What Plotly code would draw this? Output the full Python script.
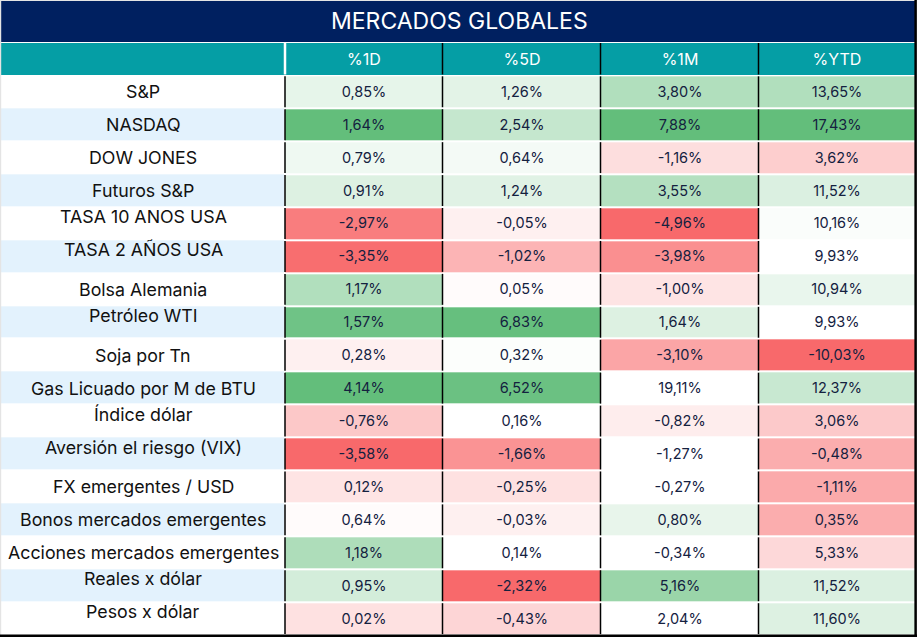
import plotly.graph_objects as go

TITLE = "MERCADOS GLOBALES"
COLUMNS = ["%1D", "%5D", "%1M", "%YTD"]
LABELS = ["S&P", "NASDAQ", "DOW JONES", "Futuros S&P", "TASA 10 ANOS USA", "TASA 2 AÑOS USA",
          "Bolsa Alemania", "Petróleo WTI", "Soja por Tn", "Gas Licuado por M de BTU", "Índice dólar",
          "Aversión el riesgo (VIX)", "FX emergentes / USD", "Bonos mercados emergentes",
          "Acciones mercados emergentes", "Reales x dólar", "Pesos x dólar"]
D1 = ["0,85%", "1,64%", "0,79%", "0,91%", "-2,97%", "-3,35%", "1,17%", "1,57%", "0,28%", "4,14%", "-0,76%",
      "-3,58%", "0,12%", "0,64%", "1,18%", "0,95%", "0,02%"]
D5 = ["1,26%", "2,54%", "0,64%", "1,24%", "-0,05%", "-1,02%", "0,05%", "6,83%", "0,32%", "6,52%", "0,16%",
      "-1,66%", "-0,25%", "-0,03%", "0,14%", "-2,32%", "-0,43%"]
M1 = ["3,80%", "7,88%", "-1,16%", "3,55%", "-4,96%", "-3,98%", "-1,00%", "1,64%", "-3,10%", "19,11%", "-0,82%",
      "-1,27%", "-0,27%", "0,80%", "-0,34%", "5,16%", "2,04%"]
YTD = ["13,65%", "17,43%", "3,62%", "11,52%", "10,16%", "9,93%", "10,94%", "9,93%", "-10,03%", "12,37%", "3,06%",
       "-0,48%", "-1,11%", "0,35%", "5,33%", "11,52%", "11,60%"]
# Conditional-format shade of each cell (-1 red ... 0 white ... +1 green)
SHADE_D1 = [.16, 1, .10, .22, -.87, -.97, .50, .92, -.10, 1, -.37, -1, -.18, -.03, .52, .28, -.20]
SHADE_D5 = [.18, .37, .07, .20, -.10, -.50, -.03, .98, .02, .95, 0, -.72, -.20, -.10, 0, -1, -.28]
SHADE_M1 = [.50, 1, -.22, .48, -1, -.75, -.18, .22, -.60, 0, -.12, 0, 0, .15, 0, .65, 0]
SHADE_YTD = [.50, 1, -.33, .23, .03, 0, .14, 0, -1, .35, -.36, -.55, -.57, -.55, -.26, .23, .22]
RAISED_LABELS = ["TASA 10 ANOS USA", "TASA 2 AÑOS USA", "Petróleo WTI", "Índice dólar",
                 "Aversión el riesgo (VIX)", "Reales x dólar", "Pesos x dólar"]

W, H = 917, 637
COL_EDGES = [285, 442.5, 600.5, 758.5, 915]
LABEL_EDGES = [1, 284]
TITLE_EDGES = [1, 41.5]
HEAD_EDGES = [43, 74.5]
ROW_TOP, ROW_H = 75.3, 32.93
ROW_EDGES = [ROW_TOP + i * ROW_H for i in range(len(LABELS) + 1)]
ROW_MID = [(a + b) / 2 for a, b in zip(ROW_EDGES, ROW_EDGES[1:])]
INK = "#14213f"
FONT = "Inter"

fig = go.Figure()
# title band
fig.add_trace(go.Heatmap(x=[1, 915], y=TITLE_EDGES, z=[[0]], colorscale=[[0, "#002060"], [1, "#002060"]],
                         showscale=False, hoverinfo="skip"))
# header band
fig.add_trace(go.Heatmap(x=[1] + COL_EDGES, y=HEAD_EDGES, z=[[0] * 5], colorscale=[[0, "#059EA5"], [1, "#059EA5"]],
                         showscale=False, hoverinfo="skip", text=[[""] + COLUMNS], texttemplate="%{text}",
                         textfont=dict(family=FONT, size=16, color="white")))
# label column
fig.add_trace(go.Heatmap(x=LABEL_EDGES, y=ROW_EDGES, z=[[i % 2] for i in range(len(LABELS))],
                         colorscale=[[0, "#FFFFFF"], [1, "#E3F2FD"]], zmin=0, zmax=1, ygap=1,
                         showscale=False, hoverinfo="skip"))
# values
z = [list(r) for r in zip(SHADE_D1, SHADE_D5, SHADE_M1, SHADE_YTD)]
text = [list(r) for r in zip(D1, D5, M1, YTD)]
fig.add_trace(go.Heatmap(x=COL_EDGES, y=ROW_EDGES, z=z, zmin=-1, zmax=1, ygap=2,
                         colorscale=[[0, "#F8696B"], [.5, "#FFFFFF"], [1, "#63BE7B"]],
                         showscale=False, hoverinfo="skip", text=text, texttemplate="%{text}",
                         textfont=dict(family=FONT, size=14.5, color=INK)))
# column separators, broken at the row gaps
sx, sy = [], []
for edge in COL_EDGES[:-1]:
    for a, b in zip(ROW_EDGES, ROW_EDGES[1:]):
        sx += [edge, edge, None]
        sy += [a + 1, b - 1, None]
fig.add_trace(go.Scatter(x=sx, y=sy, mode="lines", line=dict(color="black", width=1.5), hoverinfo="skip"))
hx, hy = [], []
for edge in COL_EDGES[1:-1]:
    hx += [edge, edge, None]
    hy += [HEAD_EDGES[0], HEAD_EDGES[1], None]
fig.add_trace(go.Scatter(x=hx, y=hy, mode="lines", line=dict(color="black", width=1.5), hoverinfo="skip"))
fig.add_trace(go.Scatter(x=[COL_EDGES[0]] * 2, y=HEAD_EDGES, mode="lines", line=dict(color="white", width=2.5),
                         hoverinfo="skip"))

ann = [dict(x=459, y=sum(TITLE_EDGES) / 2, text=TITLE, showarrow=False,
            font=dict(family=FONT, size=23, color="white"))]
for name, y in zip(LABELS, ROW_MID):
    ann.append(dict(x=143, y=y, text=name, showarrow=False, yshift=(7 if name in RAISED_LABELS else 0),
                    font=dict(family=FONT, size=17.8, color="#111111")))

fig.update_layout(
    width=W, height=H, margin=dict(l=0, r=0, t=0, b=0), showlegend=False,
    paper_bgcolor="white", plot_bgcolor="white", annotations=ann,
    xaxis=dict(range=[0, W], visible=False, fixedrange=True),
    yaxis=dict(range=[H, 0], visible=False, fixedrange=True),
    shapes=[
        dict(type="line", xref="paper", yref="paper", x0=0.0005, x1=0.0005, y0=0, y1=1, line=dict(color="#e4e4e4", width=1.5)),
        dict(type="line", xref="paper", yref="paper", x0=0, x1=1, y0=0.9995, y1=0.9995, line=dict(color="#e4e4e4", width=1.5)),
        dict(type="line", xref="paper", yref="paper", x0=0.9985, x1=0.9985, y0=0, y1=1, line=dict(color="black", width=2.5)),
        dict(type="line", xref="paper", yref="paper", x0=0, x1=1, y0=0.002, y1=0.002, line=dict(color="black", width=2.5)),
    ],
)
fig.write_html("out.html", config=dict(displayModeBar=False),
               post_script="document.body.style.margin='0';")
